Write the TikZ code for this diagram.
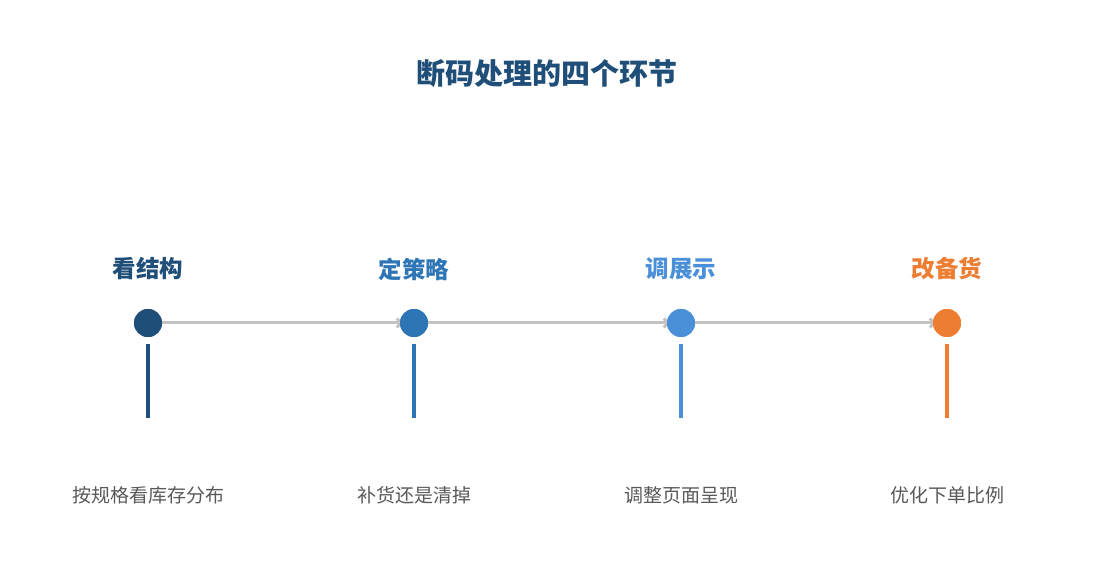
\documentclass[tikz,border=0pt]{standalone}
\usepackage{fontspec}
\setmainfont{Noto Sans CJK SC}
\usetikzlibrary{arrows.meta,calc}
\definecolor{cA}{HTML}{1F4E79}
\definecolor{cB}{HTML}{2E75B6}
\definecolor{cC}{HTML}{4A90D9}
\definecolor{cD}{HTML}{ED7D31}
\definecolor{lineg}{HTML}{C3C3C3}
\definecolor{txtg}{HTML}{595959}
\tikzset{
  dot/.style={circle,inner sep=0pt,minimum size=28pt,fill=#1},
  stem/.style={line width=4pt,draw=#1},
  head/.style={font=\fontsize{23.5}{25}\selectfont\bfseries,text=#1},
  desc/.style={font=\fontsize{19}{21}\selectfont,text=txtg},
  conn/.style={draw=lineg,line width=3pt,-{Straight Barb[length=4pt,width=9pt]}}
}
\begin{document}
\begin{tikzpicture}[x=1pt,y=-1pt]
\useasboundingbox (0,0) rectangle (1095,585);
\fill[white] (0,0) rectangle (1095,585);
\node[font=\fontsize{29}{31}\selectfont\bfseries,text=cA] (title) at (547,74) {断码处理的四个环节};
\foreach \i/\x/\c/\h/\d in {1/148/cA/看结构/按规格看库存分布,2/414/cB/定策略/补货还是清掉,3/681/cC/调展示/调整页面呈现,4/947/cD/改备货/优化下单比例}{
  \node[dot=\c] (c\i) at (\x,323) {};
  \node[head=\c] (h\i) at (\x,269) {\h};
  \node[desc] (d\i) at (\x,495) {\d};
  \coordinate (s\i) at (\x,344);
  \coordinate (e\i) at (\x,418);
  \draw[stem=\c] (s\i) -- (e\i);
}
\draw[conn] (c1.east) -- ([xshift=3pt]c2.west);
\draw[conn] (c2.east) -- ([xshift=3pt]c3.west);
\draw[conn] (c3.east) -- ([xshift=3pt]c4.west);
\foreach \i/\c in {1/cA,2/cB,3/cC,4/cD}{
  \node[dot=\c] at (c\i) {};
}
\end{tikzpicture}
\end{document}
